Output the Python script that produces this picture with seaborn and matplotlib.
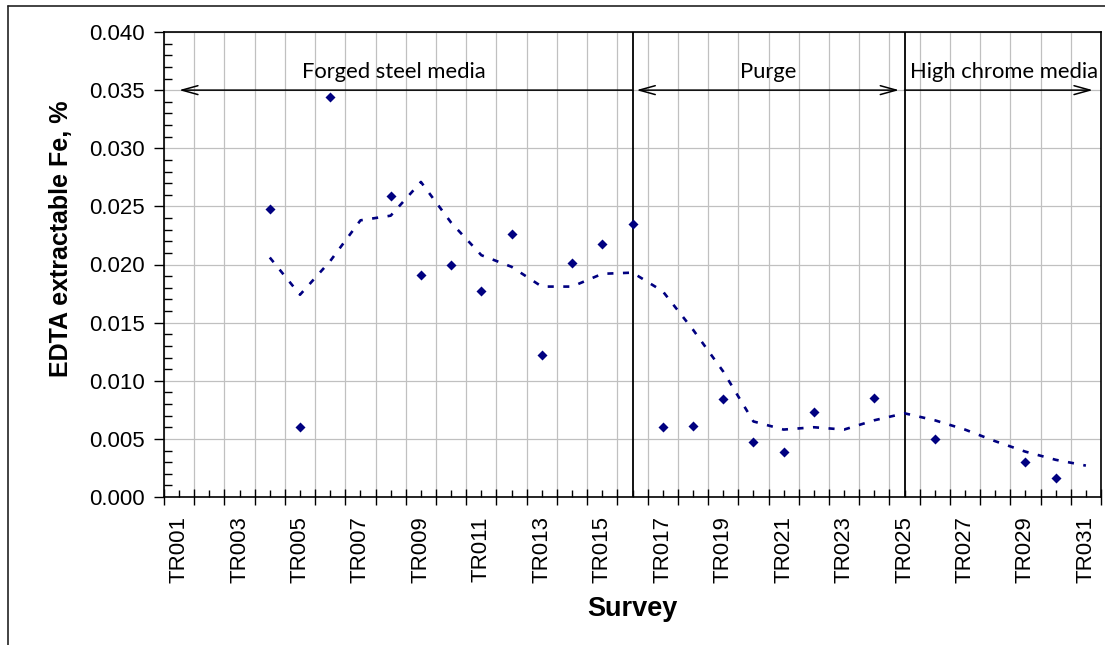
import numpy as np
import pandas as pd
import matplotlib
matplotlib.use("Agg")
import matplotlib.pyplot as plt
import seaborn as sns
from matplotlib.lines import Line2D
from matplotlib.ticker import MultipleLocator, FixedLocator, FormatStrFormatter

# ---------------- data ----------------
surveys = ["TR001", "TR002", "TR003", "TR004", "TR005", "TR006", "TR007", "TR008",
           "TR009", "TR010", "TR011", "TR012", "TR013", "TR014", "TR015", "TR016",
           "TR017", "TR018", "TR019", "TR020", "TR021", "TR022", "TR023", "TR024",
           "TR025", "TR026", "TR027", "TR028", "TR029", "TR030", "TR031"]

point_surveys = ["TR004", "TR005", "TR006", "TR008", "TR009", "TR010", "TR011", "TR012",
                 "TR013", "TR014", "TR015", "TR016", "TR017", "TR018", "TR019", "TR020",
                 "TR021", "TR022", "TR024", "TR026", "TR029", "TR030"]
point_values = [0.0248, 0.0060, 0.0344, 0.0259, 0.0191, 0.0200, 0.0177, 0.0226,
                0.0122, 0.0201, 0.0218, 0.0235, 0.0060, 0.0061, 0.0084, 0.0047,
                0.0039, 0.0073, 0.0085, 0.0050, 0.0030, 0.0016]

trend_surveys = ["TR004", "TR005", "TR006", "TR007", "TR008", "TR009", "TR010", "TR011",
                 "TR012", "TR013", "TR014", "TR015", "TR016", "TR017", "TR018", "TR019",
                 "TR020", "TR021", "TR022", "TR023", "TR024", "TR025", "TR026", "TR027",
                 "TR028", "TR029", "TR030", "TR031"]
trend_values = [0.0206, 0.0174, 0.0203, 0.0238, 0.0242, 0.0271, 0.0236, 0.0208,
                0.0198, 0.0181, 0.0181, 0.0192, 0.0193, 0.0177, 0.0144, 0.0108,
                0.0065, 0.0058, 0.0060, 0.0058, 0.0066, 0.0072, 0.0066, 0.0058,
                0.0048, 0.0039, 0.0032, 0.0027]

phase_labels = ["Forged steel media", "Purge", "High chrome media"]
phase_breaks = ["TR016", "TR025"]

# ---------------- style ----------------
sns.set_style("white")
plt.rcParams["font.family"] = ["Liberation Sans", "DejaVu Sans"]
plt.rcParams["text.color"] = "black"
plt.rcParams["axes.labelcolor"] = "black"

NAVY = "#000080"
W, H = 1105, 645
fig = plt.figure(figsize=(W / 100, H / 100), dpi=100)
ax = fig.add_axes([164 / W, 1 - 497 / H, 937 / W, 465 / H])

pos = {s: i for i, s in enumerate(surveys)}
pts = pd.DataFrame({"x": [pos[s] for s in point_surveys], "y": point_values})
trd = pd.DataFrame({"x": [pos[s] for s in trend_surveys], "y": trend_values})

sns.lineplot(data=trd, x="x", y="y", ax=ax, color=NAVY, lw=1.9,
             linestyle=(0, (2.3, 3.6)), solid_capstyle="butt", dash_capstyle="butt",
             zorder=3)
sns.scatterplot(data=pts, x="x", y="y", ax=ax, marker="D", s=26, color=NAVY,
                linewidth=0, zorder=4)

ax.set_xlim(-0.5, len(surveys) - 0.5)
ax.set_ylim(0, 0.04)

# x axis ticks: labels at category centres, boundaries with crossing ticks + grid
ax.xaxis.set_major_locator(FixedLocator(range(len(surveys))))
ax.set_xticklabels([s if i % 2 == 0 else "" for i, s in enumerate(surveys)],
                   rotation=90)
ax.xaxis.set_minor_locator(FixedLocator(np.arange(-0.5, len(surveys), 1.0)))
ax.tick_params(axis="x", which="major", direction="in", length=5, width=1,
               pad=14, labelsize=16, colors="black")
ax.tick_params(axis="x", which="minor", direction="inout", length=12, width=1,
               colors="black")

ax.yaxis.set_major_locator(MultipleLocator(0.005))
ax.yaxis.set_minor_locator(MultipleLocator(0.001))
ax.yaxis.set_major_formatter(FormatStrFormatter("%.3f"))
ax.tick_params(axis="y", which="major", direction="out", length=7, width=1,
               pad=7, labelsize=16, colors="black")
ax.tick_params(axis="y", which="minor", direction="in", length=6, width=1,
               colors="black")
ax.tick_params(left=True, bottom=True, which="both")

ax.set_axisbelow(True)
ax.grid(True, axis="y", which="major", color="#c0c0c0", lw=0.9)
ax.grid(True, axis="x", which="minor", color="#c0c0c0", lw=0.9)
ax.grid(False, axis="x", which="major")

for sp in ax.spines.values():
    sp.set_color("black")
    sp.set_linewidth(1.2)
    sp.set_visible(True)

ax.set_xlabel("")
ax.set_ylabel("")

# phase separators
for b in phase_breaks:
    ax.plot([pos[b], pos[b]], [0, 0.04], color="black", lw=1.3, zorder=2)

# phase arrows
arrow_y = 0.035
def arrow(x0, x1, style):
    ax.annotate("", xy=(x1, arrow_y), xytext=(x0, arrow_y),
                arrowprops=dict(arrowstyle=f"{style}, head_length=1.15, head_width=0.32",
                                lw=1.1, color="black", shrinkA=0, shrinkB=0,
                                mutation_scale=10), zorder=5)

arrow(pos["TR016"], pos["TR001"], "->")
arrow(15.13, 23.82, "<->")
arrow(pos["TR025"], 30.23, "->")

txt_kw = dict(fontsize=15.8, family=["Lato", "DejaVu Sans"], va="baseline",
              ha="center", color="black", zorder=6)
ax.text(7.11, 0.03604, phase_labels[0], **txt_kw)
ax.text(19.5, 0.03604, phase_labels[1], **txt_kw)
ax.text(27.3, 0.03604, phase_labels[2], **txt_kw)

# axis titles
fig.text(68 / W, 1 - 239 / H, "EDTA extractable Fe, %", rotation=90,
         rotation_mode="anchor", ha="center", va="baseline",
         fontsize=18, fontweight="bold", color="black")
fig.text(632 / W, 1 - 616 / H, "Survey", ha="center", va="baseline",
         fontsize=19.5, fontweight="bold", color="black")

# chart-area border (left and top edges visible)
fig.add_artist(Line2D([8 / W, 8 / W], [0, 1 - 6 / H], transform=fig.transFigure,
                      color="#222222", lw=1.2))
fig.add_artist(Line2D([8 / W, 1], [1 - 6 / H, 1 - 6 / H], transform=fig.transFigure,
                      color="#222222", lw=1.2))

fig.savefig("out.png", dpi=100)
